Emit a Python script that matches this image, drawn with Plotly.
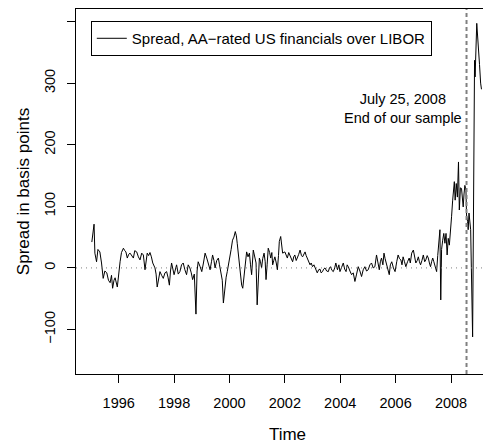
import plotly.graph_objects as go

# decimal year and spread (basis points)
years = [1995.03, 1995.08, 1995.11, 1995.14, 1995.2, 1995.25, 1995.32, 1995.38, 1995.44, 1995.5,
         1995.57, 1995.63, 1995.69, 1995.74, 1995.78, 1995.83, 1995.87, 1995.95, 1996.0, 1996.05,
         1996.1, 1996.17, 1996.22, 1996.26, 1996.31, 1996.36, 1996.41, 1996.47, 1996.53, 1996.58,
         1996.65, 1996.71, 1996.77, 1996.83, 1996.89, 1996.95, 1997.03, 1997.08, 1997.13, 1997.18,
         1997.23, 1997.31, 1997.35, 1997.39, 1997.44, 1997.49, 1997.55, 1997.61, 1997.67, 1997.73,
         1997.78, 1997.83, 1997.87, 1997.91, 1998.0, 1998.05, 1998.09, 1998.15, 1998.21, 1998.27,
         1998.33, 1998.39, 1998.45, 1998.51, 1998.57, 1998.62, 1998.67, 1998.73, 1998.79, 1998.83,
         1998.87, 1998.94, 1999.0, 1999.06, 1999.12, 1999.18, 1999.24, 1999.3, 1999.35, 1999.39,
         1999.44, 1999.48, 1999.54, 1999.6, 1999.64, 1999.68, 1999.74, 1999.78, 1999.84, 1999.88,
         1999.92, 1999.97, 2000.02, 2000.06, 2000.11, 2000.16, 2000.21, 2000.25, 2000.28, 2000.35,
         2000.4, 2000.44, 2000.48, 2000.52, 2000.56, 2000.62, 2000.67, 2000.72, 2000.76, 2000.8,
         2000.86, 2000.91, 2000.96, 2001.0, 2001.04, 2001.08, 2001.12, 2001.16, 2001.2, 2001.25,
         2001.29, 2001.32, 2001.36, 2001.4, 2001.45, 2001.49, 2001.53, 2001.56, 2001.6, 2001.64,
         2001.69, 2001.73, 2001.77, 2001.8, 2001.85, 2001.89, 2001.92, 2002.0, 2002.05, 2002.09,
         2002.14, 2002.18, 2002.23, 2002.28, 2002.32, 2002.36, 2002.41, 2002.45, 2002.5, 2002.55,
         2002.6, 2002.64, 2002.69, 2002.73, 2002.77, 2002.81, 2002.86, 2002.91, 2002.95, 2003.0,
         2003.05, 2003.09, 2003.13, 2003.17, 2003.22, 2003.27, 2003.31, 2003.36, 2003.4, 2003.45,
         2003.51, 2003.57, 2003.61, 2003.65, 2003.7, 2003.75, 2003.8, 2003.84, 2003.9, 2003.95,
         2003.99, 2004.05, 2004.11, 2004.16, 2004.21, 2004.25, 2004.29, 2004.35, 2004.41, 2004.47,
         2004.53, 2004.59, 2004.65, 2004.71, 2004.77, 2004.83, 2004.89, 2004.95, 2005.01, 2005.07,
         2005.13, 2005.19, 2005.25, 2005.31, 2005.36, 2005.41, 2005.45, 2005.49, 2005.54, 2005.58,
         2005.62, 2005.67, 2005.72, 2005.77, 2005.81, 2005.86, 2005.92, 2005.98, 2006.04, 2006.09,
         2006.14, 2006.19, 2006.23, 2006.27, 2006.32, 2006.37, 2006.43, 2006.49, 2006.53, 2006.58,
         2006.64, 2006.69, 2006.73, 2006.78, 2006.82, 2006.86, 2006.9, 2006.95, 2007.0, 2007.05,
         2007.09, 2007.14, 2007.18, 2007.22, 2007.26, 2007.3, 2007.34, 2007.38, 2007.42, 2007.48,
         2007.52, 2007.56, 2007.6, 2007.63, 2007.66, 2007.7, 2007.74, 2007.78, 2007.82, 2007.86,
         2007.9, 2007.94, 2007.98, 2008.02, 2008.06, 2008.08, 2008.12, 2008.15, 2008.19, 2008.23,
         2008.27, 2008.3, 2008.34, 2008.38, 2008.41, 2008.44, 2008.47, 2008.5, 2008.54, 2008.56,
         2008.6, 2008.62, 2008.65, 2008.68, 2008.71, 2008.78, 2008.85, 2008.87, 2008.93, 2008.96,
         2008.99, 2009.03, 2009.07, 2009.1]
spread = [42, 60, 71, 24, 10, 30, 26, 8, -17, -5,
          -8, -20, -24, -12, -33, -20, -16, -31, -5, 10,
          25, 32, 28, 26, 16, 22, 24, 20, 16, 28,
          26, 18, 13, 24, 21, -3, 24, 20, 25, 18,
          8, 0, -10, -31, -15, -6, -12, -17, -8, -6,
          -15, -28, -5, 8, -11, 0, 5, -10, -6, 5,
          8, -3, -11, 5, 0, -8, -19, -10, -75, -5,
          10, 2, -6, 8, 24, 16, 5, -3, 10, 21,
          12, 0, 12, 16, 5, -6, -20, -57, -25, -15,
          -6, 5, 16, 30, 45, 50, 59, 52, 40, 10,
          -22, -28, -33, -15, 2, 26, 18, 24, 5, -11,
          29, 15, 8, -60, -10, 16, 10, 0, 15, 24,
          10, -19, 5, 32, 25, 16, 25, 5, 12, 18,
          8, -3, 20, 43, 51, 35, 24, 26, 20, 16,
          25, 21, 15, 10, 18, 21, 12, 16, 22, 29,
          20, 18, 22, 26, 20, 16, 10, 5, 8, 2,
          5, 0, -5, -8, -3, -2, -8, -6, -2, 0,
          -5, -6, 0, 2, -4, -6, 0, 8, -3, 5,
          -6, 0, 8, -2, -6, 5, 2, -5, -11, -8,
          -22, -10, 2, -5, -14, -3, 2, -5, -3, 5,
          8, 0, 2, 21, 8, -3, 10, 16, 5, 24,
          15, 5, 0, -11, 5, 10, 0, -6, 10, 21,
          15, 13, 5, 18, 10, 2, 10, 16, 8, 24,
          29, 15, 8, 12, 18, 10, 5, 12, 21, 10,
          13, 20, 16, 8, 2, 10, 16, 10, 5, -6,
          20, 45, 62, -52, 30, 45, 56, 40, 56, 21,
          48, 37, 56, 83, 110, 124, 140, 110, 137, 115,
          172, 94, 130, 129, 110, 99, 120, 134, 126, 86,
          75, 62, 89, 70, 62, -112, 337, 310, 397, 380,
          350, 330, 300, 290]

end_of_sample = 2008.56
x_ticks = [1996, 1998, 2000, 2002, 2004, 2006, 2008]
y_ticks = [-100, 0, 100, 200, 300, 400]

FONT = 'Liberation Sans, Arial, sans-serif'

fig = go.Figure()
fig.add_trace(go.Scatter(x=years, y=spread, mode='lines',
                         name='Spread, AA\u2212rated US financials over LIBOR',
                         line=dict(color='black', width=1)))

# zero reference and end-of-sample marker
fig.add_hline(y=0, line=dict(color='#808080', width=1, dash='1px,4px'))
fig.add_vline(x=end_of_sample, line=dict(color='#808080', width=2, dash='4px,3px'))
fig.add_annotation(x=2006.27, y=258, text='July 25, 2008<br>End of our sample',
                   showarrow=False, font=dict(size=14.5, color='black'), align='center')

# the page adds an 8px offset; the plot box runs past the right edge, as in the original
fig.update_xaxes(range=[1994.458, 2009.733], tickvals=x_ticks, ticks='outside', ticklen=8,
                 tickcolor='black', showline=True, linecolor='black', linewidth=1, mirror=True,
                 showgrid=False, zeroline=False, ticklabelstandoff=8, automargin=False,
                 title=dict(text='Time', standoff=17))
fig.update_yaxes(range=[-172.2, 420.3], tickvals=y_ticks, ticks='outside', ticklen=8,
                 tickcolor='black', showline=True, linecolor='black', linewidth=1,
                 showgrid=False, zeroline=False, tickangle=-90, ticklabelstandoff=6,
                 automargin=False, title=dict(text='Spread in basis points', standoff=8))

fig.update_layout(width=491, height=441,
                  margin=dict(l=68, r=0, t=1, b=75),
                  plot_bgcolor='white', paper_bgcolor='white',
                  font=dict(family=FONT, size=14.5, color='black'),
                  showlegend=True,
                  legend=dict(x=0.035, y=0.967, xanchor='left', yanchor='top',
                              bordercolor='black', borderwidth=1, bgcolor='white',
                              font=dict(size=15)))

fig.write_html("out.html")
